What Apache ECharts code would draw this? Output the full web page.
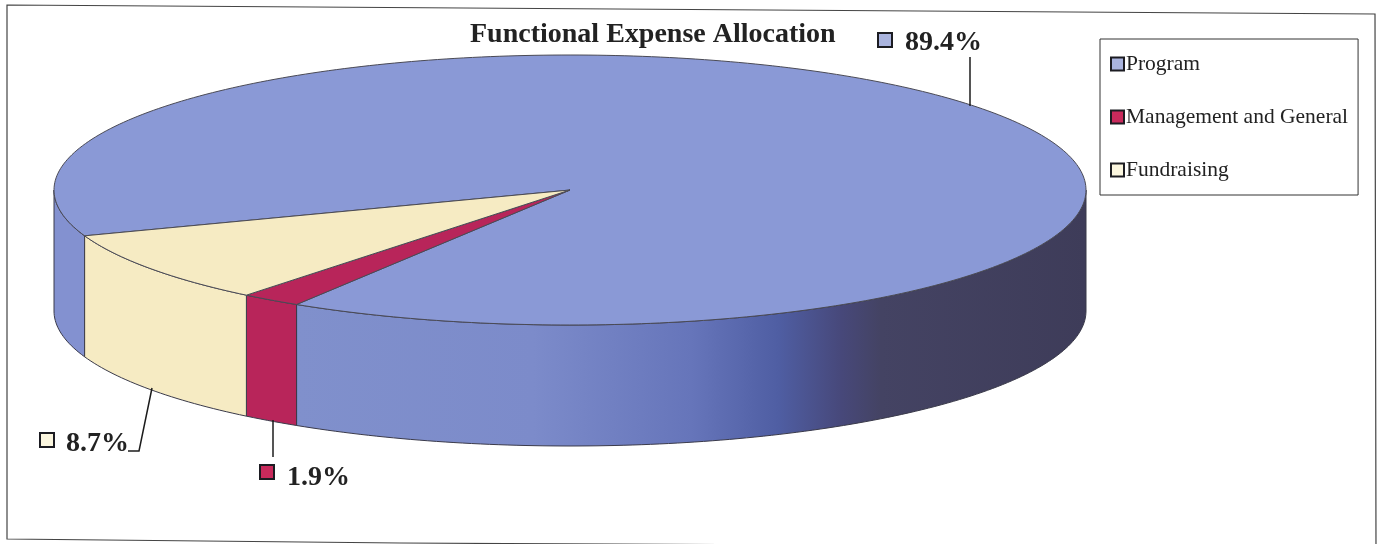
<!DOCTYPE html>
<html>
<head>
<meta charset="utf-8">
<style>html,body{margin:0;padding:0;background:#fff}#c{width:1383px;height:544px}</style>
<script src="https://cdn.jsdelivr.net/npm/echarts@6/dist/echarts.min.js"></script>
</head>
<body>
<div id="c"></div>
<script>
var chartTitle = 'Functional Expense Allocation';
var categories = ['Program', 'Management and General', 'Fundraising'];
var values = [89.4, 1.9, 8.7];
var labels = ['89.4%', '1.9%', '8.7%'];

var colors = ['#8a99d6', '#b8255a', '#f6ebc3'];
var swatch = ['#aab4df', '#c92a5c', '#fbf6df'];
var FONT = '"Liberation Serif","Times New Roman",serif';
var cx = 570, cy = 190, rx = 516, ry = 135, depth = 121;
// the Management slice begins here on the front edge; Fundraising and Program follow
var startDeg = 122;
var D = Math.PI / 180;

function pt(deg, dy) {
  return [cx + rx * Math.cos(deg * D), cy + ry * Math.sin(deg * D) + (dy || 0)];
}
function arc(a, b, dy) {
  var n = Math.max(2, Math.ceil(Math.abs(b - a))), out = [];
  for (var i = 0; i <= n; i++) out.push(pt(a + (b - a) * i / n, dy));
  return out;
}
function spanOf(idx) {
  var order = [1, 2, 0], a = startDeg;
  for (var i = 0; i < order.length; i++) {
    var s = values[order[i]] / 100 * 360;
    if (order[i] === idx) return [a, a + s];
    a += s;
  }
}
var frontGrad = {
  type: 'linear', x: 0, y: 0, x2: 1, y2: 0,
  colorStops: [
    {offset: 0, color: '#8090cc'},
    {offset: 0.30, color: '#7c8bca'},
    {offset: 0.50, color: '#6675ba'},
    {offset: 0.61, color: '#4f5ea3'},
    {offset: 0.69, color: '#47487a'},
    {offset: 0.74, color: '#444363'},
    {offset: 1, color: '#3e3c59'}
  ]
};
var leaders = {
  0: {line: [[970, 106], [970, 57]], sw: [878, 33], txt: [905, 43]},
  1: {line: [[273, 420], [273, 457]], sw: [260, 465], txt: [287, 478]},
  2: {line: [[152, 388], [139, 451], [128, 451]], sw: [40, 433], txt: [66, 444]}
};

function makeRender(idx) {
  return function () {
    var sp = spanOf(idx), a = sp[0], b = sp[1], kids = [];
    // side wall: only the front half of the rim (0..180 degrees) is visible
    var ranges = [];
    if (a < 180) ranges.push([a, Math.min(b, 180)]);
    if (b > 360) ranges.push([360, Math.min(b, 540)]);
    ranges.forEach(function (r) {
      var top = arc(r[0], r[1], 0), bot = arc(r[1], r[0], depth);
      var isRight = r[0] >= 360;
      kids.push({
        type: 'polygon',
        shape: {points: top.concat(bot)},
        style: {fill: (idx === 0 && isRight) ? frontGrad : (idx === 0 ? '#8391d0' : colors[idx]), stroke: '#3a3a4a', lineWidth: 1}
      });
    });
    // top face
    kids.push({
      type: 'polygon',
      shape: {points: [[cx, cy]].concat(arc(a, b, 0))},
      style: {fill: colors[idx], stroke: '#4a4a55', lineWidth: 1}
    });
    // leader line and percentage label
    var L = leaders[idx];
    kids.push({type: 'polyline', shape: {points: L.line}, style: {fill: null, stroke: '#1c1c1c', lineWidth: 1.5}});
    kids.push({type: 'rect', shape: {x: L.sw[0], y: L.sw[1], width: 14, height: 14},
      style: {fill: swatch[idx], stroke: '#1c1c22', lineWidth: 2}});
    kids.push({type: 'text', style: {x: L.txt[0], y: L.txt[1], text: labels[idx], fill: '#222',
      font: 'bold 28px ' + FONT, textAlign: 'left', textVerticalAlign: 'middle'}});
    return {type: 'group', children: kids};
  };
}

var chart = echarts.init(document.getElementById('c'), null, {renderer: 'canvas'});
chart.setOption({
  animation: false,
  backgroundColor: '#ffffff',
  title: {
    text: chartTitle, left: 470, top: 21,
    textStyle: {fontFamily: FONT, fontWeight: 'bold', fontSize: 28, color: '#222'}, padding: 0
  },
  legend: {
    orient: 'vertical', left: 1100, top: 39,
    padding: [14, 10, 14, 10],
    borderColor: '#333', borderWidth: 1,
    itemWidth: 13, itemHeight: 13, itemGap: 31,
    icon: 'rect', selectedMode: false,
    textStyle: {fontFamily: FONT, fontSize: 21.5, color: '#222', padding: [0, 0, 0, -3]},
    data: categories.map(function (c, i) {
      return {name: c, itemStyle: {color: swatch[i], borderColor: '#1c1c22', borderWidth: 2}};
    })
  },
  graphic: [{
    type: 'polygon', silent: true, z: -1,
    shape: {points: [[7, 5], [1375, 14], [1376, 552], [1000, 546], [400, 543], [7, 539]]},
    style: {fill: '#fff', stroke: '#444', lineWidth: 1.2}
  }],
  series: categories.map(function (c, i) {
    return {
      type: 'custom', name: c, coordinateSystem: 'none',
      data: [values[i]], renderItem: makeRender(i), silent: true,
      itemStyle: {color: colors[i]}
    };
  })
});
</script>
</body>
</html>
